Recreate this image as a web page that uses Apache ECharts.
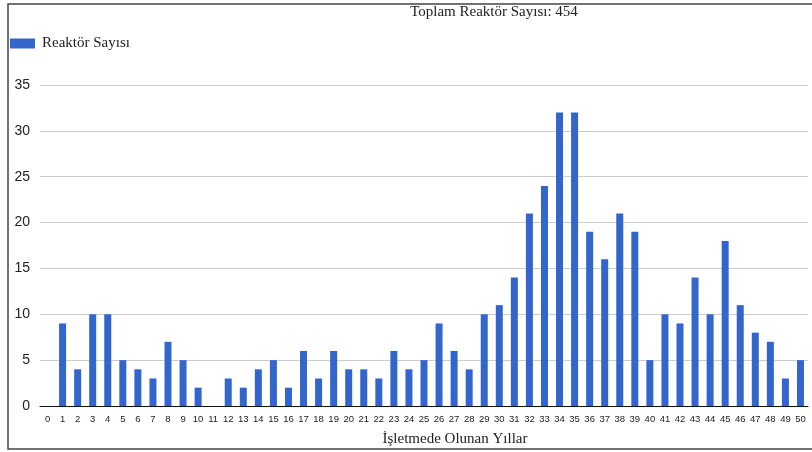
<!DOCTYPE html>
<html>
<head>
<meta charset="utf-8">
<script src="https://cdn.jsdelivr.net/npm/echarts@6/dist/echarts.min.js"></script>
<style>html,body{margin:0;padding:0;background:#fff;}#c{width:812px;height:452px;}</style>
</head>
<body>
<div id="c"></div>
<script>
const chartTitle = 'Toplam Reaktör Sayısı: 454';
const seriesName = 'Reaktör Sayısı';
const xAxisName = 'İşletmede Olunan Yıllar';
const years = ['0','1','2','3','4','5','6','7','8','9','10','11','12','13','14','15','16','17','18','19','20','21','22','23','24','25','26','27','28','29','30','31','32','33','34','35','36','37','38','39','40','41','42','43','44','45','46','47','48','49','50'];
const reactorCounts = [0,9,4,10,10,5,4,3,7,5,2,0,3,2,4,5,2,6,3,6,4,4,3,6,4,5,9,6,4,10,11,14,21,24,32,32,19,16,21,19,5,10,9,14,10,18,11,8,7,3,5];
const yTicks = {min: 0, max: 35, interval: 5};

const chart = echarts.init(document.getElementById('c'));
chart.setOption({
  animation: false,
  backgroundColor: '#fff',
  graphic: [
    {type: 'rect', shape: {x: 8, y: 4, width: 820, height: 445}, style: {fill: 'none', stroke: '#444', lineWidth: 1.5}, silent: true},
    {type: 'text', x: 494, y: 12, style: {text: chartTitle, textAlign: 'center', textVerticalAlign: 'middle', font: '15px "Liberation Serif", serif', fill: '#222'}}
  ],
  legend: {
    left: 5, top: 31, itemWidth: 25, itemHeight: 10, icon: 'rect',
    textStyle: {fontFamily: '"Liberation Serif", serif', fontSize: 15, color: '#222', padding: [0, 0, 0, 2]},
    data: [seriesName]
  },
  grid: {left: 40, right: 4, top: 85, bottom: 45, containLabel: false},
  xAxis: {
    type: 'category', data: years,
    axisLine: {lineStyle: {color: '#111', width: 1}},
    axisTick: {show: false},
    axisLabel: {interval: 0, fontSize: 9.5, color: '#222', fontFamily: '"Liberation Sans", Arial, sans-serif', margin: 8},
    name: xAxisName, nameLocation: 'middle', nameGap: 26,
    nameTextStyle: {fontFamily: '"Liberation Serif", serif', fontSize: 15, color: '#222', padding: [0, 0, 0, 62]}
  },
  yAxis: {
    type: 'value', min: yTicks.min, max: yTicks.max, interval: yTicks.interval,
    axisLine: {show: false}, axisTick: {show: false},
    axisLabel: {fontSize: 14, color: '#222', fontFamily: '"Liberation Sans", Arial, sans-serif', margin: 10},
    splitLine: {lineStyle: {color: '#ccc', width: 1}}
  },
  series: [{
    name: seriesName, type: 'bar', data: reactorCounts, barWidth: 7,
    itemStyle: {color: '#3366cc'}
  }]
});
</script>
</body>
</html>
